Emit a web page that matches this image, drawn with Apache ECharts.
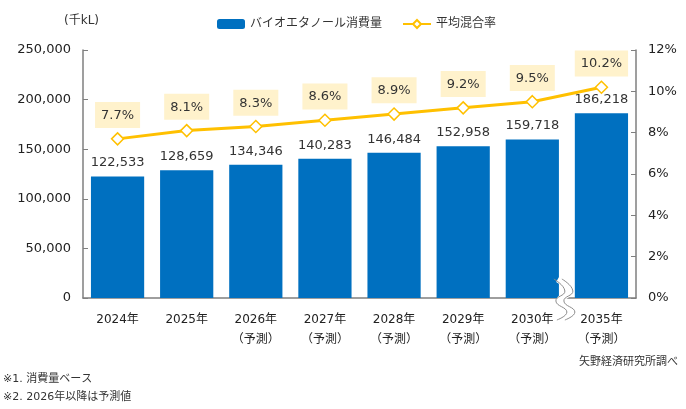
<!DOCTYPE html>
<html><head><meta charset="utf-8">
<script src="https://cdn.jsdelivr.net/npm/echarts@6/dist/echarts.min.js"></script>
<style>html,body{margin:0;padding:0;background:#fff}#c{width:686px;height:409px}</style>
</head><body><div id="c"></div>
<script>
const categories = ['2024年','2025年','2026年\n（予測）','2027年\n（予測）','2028年\n（予測）','2029年\n（予測）','2030年\n（予測）','2035年\n（予測）'];
const consumption = [122533,128659,134346,140283,146484,152958,159718,186218];
const blendRate = [7.7,8.1,8.3,8.6,8.9,9.2,9.5,10.2];
const leftTicks = {min:0,max:250000,interval:50000};
const rightTicks = {min:0,max:12,interval:2};

const FONT = '"DejaVu Sans","Noto Sans CJK JP",sans-serif';
const chart = echarts.init(document.getElementById('c'));
chart.setOption({
  animation:false,
  textStyle:{fontFamily:FONT},
  grid:{left:83,right:50,top:50,bottom:111},
  legend:{
    top:13,left:212,itemGap:20,itemWidth:28,itemHeight:10,
    textStyle:{fontSize:12,color:'#333',fontFamily:FONT},
    data:['バイオエタノール消費量','平均混合率']
  },
  xAxis:{
    type:'category',data:categories,
    axisLine:{lineStyle:{color:'#7f7f7f',width:1.5}},
    axisTick:{inside:true,length:4,lineStyle:{color:'#7f7f7f'}},
    axisLabel:{color:'#222',fontSize:12,margin:12,lineHeight:20,fontFamily:FONT}
  },
  yAxis:[{
    type:'value',min:leftTicks.min,max:leftTicks.max,interval:leftTicks.interval,
    splitLine:{show:false},
    axisLine:{show:true,lineStyle:{color:'#7f7f7f',width:1.5}},
    axisTick:{show:true,inside:true,length:5,lineStyle:{color:'#7f7f7f'}},
    axisLabel:{color:'#222',fontSize:13,margin:12,formatter:v=>v.toLocaleString('en-US')}
  },{
    type:'value',min:rightTicks.min,max:rightTicks.max,interval:rightTicks.interval,
    splitLine:{show:false},
    axisLine:{show:true,lineStyle:{color:'#7f7f7f',width:1.5}},
    axisTick:{show:true,inside:true,length:5,lineStyle:{color:'#7f7f7f'}},
    axisLabel:{color:'#222',fontSize:13,margin:12,formatter:'{value}%'}
  }],
  series:[{
    name:'バイオエタノール消費量',type:'bar',data:consumption,
    barCategoryGap:'23%',
    itemStyle:{color:'#0070C0'},
    label:{show:true,position:'top',distance:7,color:'#333',fontSize:13,
      formatter:p=>p.value.toLocaleString('en-US')}
  },{
    name:'平均混合率',type:'line',yAxisIndex:1,data:blendRate,
    symbol:'diamond',symbolSize:12,
    lineStyle:{color:'#FFC000',width:3},
    itemStyle:{color:'#fff',borderColor:'#FFC000',borderWidth:1.5},
    label:{show:true,position:'top',distance:4,color:'#333',fontSize:13,
      backgroundColor:'#FFF2CC',padding:[7,6,6,6],formatter:'{c}%'},
    z:5
  }]
});

function addGraphics(){
  const x6 = chart.convertToPixel({xAxisIndex:0},categories[6]);
  const x7 = chart.convertToPixel({xAxisIndex:0},categories[7]);
  const y0 = chart.convertToPixel({yAxisIndex:0},0);
  const c = (x6+x7)/2;
  const base = [[-9,-19],[2,-7],[-7,3],[4,14],[-6,22]];
  const pts = dx => base.map(p=>[c+p[0]+dx,y0+p[1]]);
  chart.setOption({graphic:[
    {type:'polyline',shape:{points:pts(0),smooth:0.5},style:{stroke:'#fff',lineWidth:7,fill:null},z:100},
    {type:'polyline',shape:{points:pts(-4),smooth:0.5},style:{stroke:'#8c8c8c',lineWidth:1,fill:null},z:101},
    {type:'polyline',shape:{points:pts(4),smooth:0.5},style:{stroke:'#8c8c8c',lineWidth:1,fill:null},z:101},
    {type:'text',left:64,top:15,style:{text:'(千kL)',fontSize:12,fill:'#333',fontFamily:FONT}},
    {type:'text',right:8,top:357,style:{text:'矢野経済研究所調べ',fontSize:11,fill:'#333',fontFamily:FONT}},
    {type:'text',left:3,top:374,style:{text:'※1. 消費量ベース',fontSize:11,fill:'#333',fontFamily:FONT}},
    {type:'text',left:3,top:392,style:{text:'※2. 2026年以降は予測値',fontSize:11,fill:'#333',fontFamily:FONT}}
  ]});
}
addGraphics();
</script></body></html>
